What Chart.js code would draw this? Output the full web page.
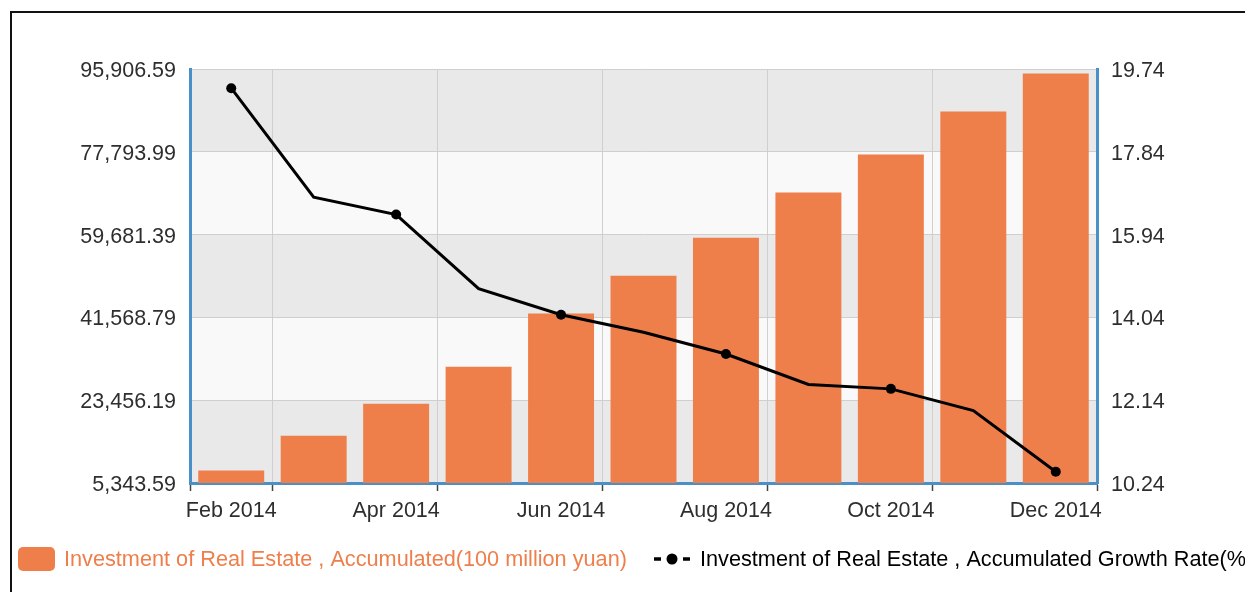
<!DOCTYPE html>
<html>
<head>
<meta charset="utf-8">
<script src="https://cdn.jsdelivr.net/npm/chart.js@4.4.0/dist/chart.umd.min.js"></script>
<style>
  html, body { margin: 0; padding: 0; background: #fff; overflow: hidden; }
  #wrap { position: relative; width: 1245px; height: 592px; }
  #frame { position: absolute; left: 10px; top: 11px; width: 1300px; height: 700px; border: 2px solid #111; }
  #box { position: absolute; left: 0; top: 0; width: 1245px; height: 592px; }
</style>
</head>
<body>
<div id="wrap">
  <div id="frame"></div>
  <div id="box"><canvas id="chart"></canvas></div>
</div>
<script>
const months = ['Feb 2014', 'Mar 2014', 'Apr 2014', 'May 2014', 'Jun 2014', 'Jul 2014',
  'Aug 2014', 'Sep 2014', 'Oct 2014', 'Nov 2014', 'Dec 2014'];
const investment = [8100, 15700, 22700, 30800, 42400, 50700, 59000, 68900, 77200, 86600, 94900];
const growthRate = [19.3, 16.8, 16.4, 14.7, 14.1, 13.7, 13.2, 12.5, 12.4, 11.9, 10.5];
const leftTicks = [5343.59, 23456.19, 41568.79, 59681.39, 77793.99, 95906.59];
const rightTicks = [10.24, 12.14, 14.04, 15.94, 17.84, 19.74];

const barLabel = 'Investment of Real Estate , Accumulated(100 million yuan)';
const lineLabel = 'Investment of Real Estate , Accumulated Growth Rate(%)';

const orange = '#ee7f4b';
const blue = '#4a8fc7';
const gridColor = '#cfcfcf';
const textColor = '#2e2e2e';
const tickFont = { family: '"Liberation Sans", Arial, sans-serif', size: 21.5 };

// alternating horizontal bands behind the grid
const bands = {
  id: 'bands',
  beforeDraw(chart) {
    const { ctx, chartArea } = chart;
    const y = chart.scales.y;
    ctx.save();
    for (let i = 0; i < leftTicks.length - 1; i++) {
      const top = y.getPixelForValue(leftTicks[i + 1]);
      const bottom = y.getPixelForValue(leftTicks[i]);
      ctx.fillStyle = i % 2 === 0 ? '#e9e9e9' : '#f9f9f9';
      ctx.fillRect(chartArea.left, top, chartArea.right - chartArea.left, bottom - top);
    }
    ctx.restore();
  }
};

// legend drawn by hand so it can run off the right edge like the original
const legendLine = {
  id: 'legendLine',
  afterDraw(chart) {
    const ctx = chart.ctx;
    const cy = 559;
    ctx.save();
    ctx.fillStyle = orange;
    ctx.beginPath();
    ctx.roundRect(18, 547, 37, 24, 5);
    ctx.fill();
    ctx.font = '21.7px "Liberation Sans", Arial, sans-serif';
    ctx.textBaseline = 'middle';
    ctx.textAlign = 'left';
    ctx.fillText(barLabel, 64, cy + 1);

    ctx.strokeStyle = '#000';
    ctx.lineWidth = 3.5;
    ctx.beginPath();
    ctx.moveTo(654, cy); ctx.lineTo(661, cy);
    ctx.moveTo(683, cy); ctx.lineTo(690, cy);
    ctx.stroke();
    ctx.fillStyle = '#000';
    ctx.beginPath();
    ctx.arc(672, cy, 5.5, 0, Math.PI * 2);
    ctx.fill();
    ctx.fillText(lineLabel, 700, cy + 1);
    ctx.restore();
  }
};

new Chart(document.getElementById('chart'), {
  data: {
    labels: months,
    datasets: [
      {
        type: 'line',
        label: lineLabel,
        data: growthRate,
        yAxisID: 'y1',
        order: 1,
        borderColor: '#000',
        borderWidth: 3,
        pointRadius: ctx => ctx.dataIndex % 2 === 0 ? 5 : 0,
        pointBackgroundColor: '#000',
        pointBorderWidth: 0,
        tension: 0
      },
      {
        type: 'bar',
        label: barLabel,
        data: investment,
        yAxisID: 'y',
        order: 2,
        backgroundColor: orange,
        barPercentage: 0.8,
        categoryPercentage: 1.0
      }
    ]
  },
  options: {
    responsive: true,
    maintainAspectRatio: false,
    animation: false,
    layout: { padding: { top: 69, left: 0, right: 0, bottom: 0 } },
    plugins: { legend: { display: false }, tooltip: { enabled: false } },
    scales: {
      x: {
        offset: true,
        grid: {
          offset: true,
          color: ctx => ctx.index % 2 === 1 ? gridColor : 'rgba(0,0,0,0)',
          tickColor: ctx => (ctx.index === undefined || ctx.index % 2 === 1 || ctx.index === 0) ? '#444' : 'rgba(0,0,0,0)',
          tickLength: 8,
          tickWidth: 1.5
        },
        border: { color: blue, width: 3 },
        ticks: {
          autoSkip: false,
          maxRotation: 0,
          padding: 7,
          color: textColor,
          font: tickFont,
          callback: (v, i) => i % 2 === 0 ? months[i] : ''
        },
        afterFit: s => { s.height = 109; }
      },
      y: {
        position: 'left',
        min: leftTicks[0],
        max: leftTicks[leftTicks.length - 1],
        afterBuildTicks: s => { s.ticks = leftTicks.map(v => ({ value: v })); },
        grid: { color: gridColor, drawTicks: false },
        border: { color: blue, width: 3 },
        ticks: {
          padding: 14,
          labelOffset: 2,
          color: textColor,
          font: tickFont,
          callback: v => v.toLocaleString('en-US', { minimumFractionDigits: 2, maximumFractionDigits: 2 })
        },
        afterFit: s => { s.width = 190; }
      },
      y1: {
        position: 'right',
        min: rightTicks[0],
        max: rightTicks[rightTicks.length - 1],
        afterBuildTicks: s => { s.ticks = rightTicks.map(v => ({ value: v })); },
        grid: { drawOnChartArea: false, drawTicks: false },
        border: { color: blue, width: 3 },
        ticks: {
          padding: 14,
          labelOffset: 2,
          color: textColor,
          font: tickFont,
          callback: v => v.toFixed(2)
        },
        afterFit: s => { s.width = 148; }
      }
    }
  },
  plugins: [bands, legendLine]
});
</script>
</body>
</html>
